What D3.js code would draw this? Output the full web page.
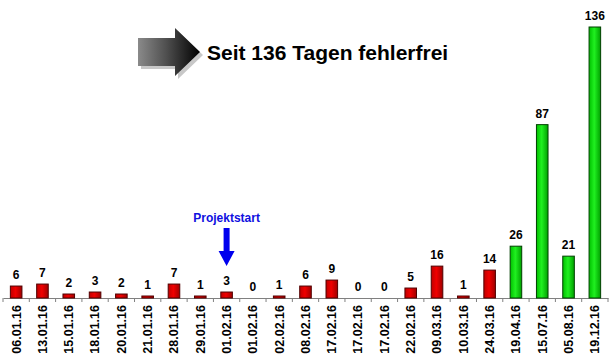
<!DOCTYPE html>
<html>
<head>
<meta charset="utf-8">
<script src="https://cdn.jsdelivr.net/npm/d3@7"></script>
<style>
  body { margin: 0; background: #fff; }
  text { font-family: Arial, "Liberation Sans", sans-serif; font-weight: bold; }
</style>
</head>
<body>
<script>
/* Fehlerfreie Tage chart */

var dates = ["06.01.16","13.01.16","15.01.16","18.01.16","20.01.16","21.01.16","28.01.16",
  "29.01.16","01.02.16","01.02.16","02.02.16","08.02.16","17.02.16","17.02.16","17.02.16",
  "22.02.16","09.03.16","10.03.16","24.03.16","19.04.16","15.07.16","05.08.16","19.12.16"];
var days = [6,7,2,3,2,1,7,1,3,0,1,6,9,0,0,5,16,1,14,26,87,21,136];
var afterStart = [false,false,false,false,false,false,false,false,false,false,false,false,false,
  false,false,false,false,false,false,true,true,true,true];
var headline = "Seit 136 Tagen fehlerfrei";
var startIndex = 8;

var width = 616, height = 362;
var svg = d3.select("body").append("svg")
    .attr("width", width)
    .attr("height", height);

var defs = svg.append("defs");
function grad(id, c1, c2, c3) {
  var g = defs.append("linearGradient").attr("id", id)
      .attr("x1", "0%").attr("x2", "100%").attr("y1", "0%").attr("y2", "0%");
  g.append("stop").attr("offset", "0%").attr("stop-color", c1);
  g.append("stop").attr("offset", "45%").attr("stop-color", c2);
  g.append("stop").attr("offset", "100%").attr("stop-color", c3);
}
grad("gRed", "#c00000", "#f00000", "#a00000");
grad("gGreen", "#00c000", "#20f020", "#00a000");
grad("gArrow", "#8a8a8a", "#505050", "#000000");

var idx = d3.range(dates.length);
var x = d3.scaleBand().domain(idx).range([3, 608]).paddingInner(0.56).paddingOuter(0.28);
var y = d3.scaleLinear().domain([0, 136]).range([298, 27]);

// axis
var axis = d3.axisBottom(x).tickFormat(function(i){ return dates[i]; }).tickSize(0);
var gx = svg.append("g").attr("transform", "translate(0," + y(0) + ")").call(axis);
gx.select(".domain").attr("stroke", "#808080");
gx.selectAll("text")
    .attr("transform", "rotate(-90)")
    .attr("text-anchor", "end")
    .attr("x", -7)
    .attr("y", 0)
    .attr("dy", "0.35em")
    .attr("font-size", 12.5)
    .attr("fill", "#000");

// tick marks between categories
var step = x.step();
svg.append("g").selectAll("line")
    .data(d3.range(dates.length + 1))
    .enter()
    .append("line")
    .attr("x1", function(i){ return 3 + i * step; })
    .attr("x2", function(i){ return 3 + i * step; })
    .attr("y1", y(0))
    .attr("y2", y(0) + 4)
    .attr("stroke", "#808080");

// bars
svg.append("g").selectAll("rect")
    .data(idx)
    .enter()
    .append("rect")
    .attr("x", function(i){ return x(i); })
    .attr("y", function(i){ return y(days[i]); })
    .attr("width", x.bandwidth())
    .attr("height", function(i){ return y(0) - y(days[i]); })
    .attr("fill", function(i){ return afterStart[i] ? "url(#gGreen)" : "url(#gRed)"; })
    .attr("stroke", function(i){ return afterStart[i] ? "#004000" : "#500000"; })
    .attr("stroke-width", 1)
    .attr("opacity", function(i){ return days[i] == 0 ? 0 : 1; });

svg.append("g").selectAll("text")
    .data(idx)
    .enter()
    .append("text")
    .text(function(i){ return days[i]; })
    .attr("x", function(i){ return x(i) + x.bandwidth() / 2; })
    .attr("y", function(i){ return y(days[i]) - 7; })
    .attr("text-anchor", "middle")
    .attr("font-size", 12)
    .attr("fill", "#000");

// headline arrow
var arrow = svg.append("g");
arrow.append("path")
    .attr("d", "M141,41 L178,41 L178,31 L203,55 L178,79 L178,69 L141,69 Z")
    .attr("fill", "#c8c8c8");
arrow.append("path")
    .attr("d", "M138,38 L175,38 L175,28 L200,52 L175,76 L175,66 L138,66 Z")
    .attr("fill", "url(#gArrow)");
svg.append("text")
    .attr("x", 207)
    .attr("y", 60)
    .attr("font-size", 21)
    .attr("fill", "#000")
    .text(headline);

// Projektstart marker
var px = x(startIndex) + x.bandwidth() / 2;
svg.append("text")
    .attr("x", px)
    .attr("y", 222)
    .attr("text-anchor", "middle")
    .attr("font-size", 12)
    .attr("fill", "#1010e0")
    .text("Projektstart");
svg.append("path")
    .attr("d", "M" + (px - 3) + ",228 L" + (px + 3) + ",228 L" + (px + 3) + ",251 L" + (px + 8) + ",251 L" + px + ",266 L" + (px - 8) + ",251 L" + (px - 3) + ",251 Z")
    .attr("fill", "#0000ee");
</script>
</body>
</html>
